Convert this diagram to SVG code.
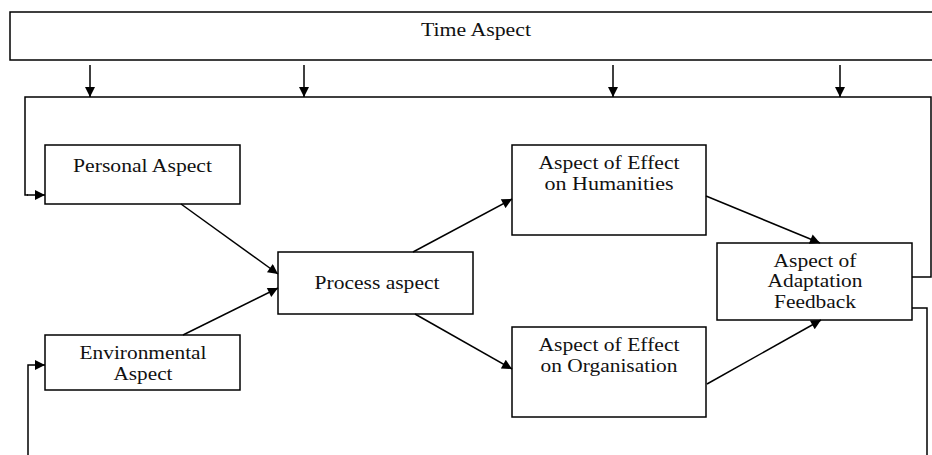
<svg xmlns="http://www.w3.org/2000/svg" width="932" height="455" viewBox="0 0 932 455">
<style>
.box{fill:#fff;stroke:#000;stroke-width:1.5}
.lbl{font-family:"Liberation Serif","Times New Roman",serif;font-size:18.5px;fill:#111;text-anchor:middle}
.ln{fill:none;stroke:#000;stroke-width:1.5}
.arr{fill:none;stroke:#000;stroke-width:1.5;marker-end:url(#ah)}
</style>
<defs>
<marker id="ah" viewBox="0 0 10 10" refX="10" refY="5" markerWidth="12" markerHeight="10" markerUnits="userSpaceOnUse" orient="auto">
<path d="M0,0 L10,5 L0,10 z" fill="#000"/>
</marker>
</defs>
<g id="time">
<rect class="box" x="10" y="12" width="930" height="48"/>
<text class="lbl" x="476" y="36" textLength="110" lengthAdjust="spacingAndGlyphs">Time Aspect</text>
</g>
<g id="personal">
<rect class="box" x="45" y="145" width="195" height="59"/>
<text class="lbl" x="142.5" y="172" textLength="139" lengthAdjust="spacingAndGlyphs">Personal Aspect</text>
</g>
<g id="environmental">
<rect class="box" x="45" y="335" width="195" height="55"/>
<text class="lbl" x="143" y="359" textLength="127" lengthAdjust="spacingAndGlyphs">Environmental</text>
<text class="lbl" x="143" y="380" textLength="59" lengthAdjust="spacingAndGlyphs">Aspect</text>
</g>
<g id="process">
<rect class="box" x="278" y="252" width="195" height="62"/>
<text class="lbl" x="377" y="289" textLength="125" lengthAdjust="spacingAndGlyphs">Process aspect</text>
</g>
<g id="humanities">
<rect class="box" x="512" y="145" width="194" height="90"/>
<text class="lbl" x="609" y="169" textLength="141" lengthAdjust="spacingAndGlyphs">Aspect of Effect</text>
<text class="lbl" x="609" y="190" textLength="129" lengthAdjust="spacingAndGlyphs">on Humanities</text>
</g>
<g id="organisation">
<rect class="box" x="512" y="327" width="194" height="90"/>
<text class="lbl" x="609" y="351" textLength="141" lengthAdjust="spacingAndGlyphs">Aspect of Effect</text>
<text class="lbl" x="609" y="372" textLength="137" lengthAdjust="spacingAndGlyphs">on Organisation</text>
</g>
<g id="adaptation">
<rect class="box" x="717" y="243" width="195" height="77"/>
<text class="lbl" x="815" y="267" textLength="83" lengthAdjust="spacingAndGlyphs">Aspect of</text>
<text class="lbl" x="815" y="287" textLength="95" lengthAdjust="spacingAndGlyphs">Adaptation</text>
<text class="lbl" x="815" y="308" textLength="82" lengthAdjust="spacingAndGlyphs">Feedback</text>
</g>
<g id="connectors">
<line class="arr" x1="90" y1="65" x2="90" y2="97"/>
<line class="arr" x1="304" y1="65" x2="304" y2="97"/>
<line class="arr" x1="613" y1="65" x2="613" y2="97"/>
<line class="arr" x1="840" y1="65" x2="840" y2="97"/>
<polyline class="ln" points="912,277 931,277 931,97 25,97 25,195 28,195"/>
<line class="arr" x1="27" y1="195" x2="45" y2="195"/>
<polyline class="ln" points="912,308 927,308 927,455"/>
<polyline class="arr" points="28,455 28,365 45,365"/>
<line class="arr" x1="181" y1="204" x2="278" y2="274"/>
<line class="arr" x1="183" y1="335" x2="278" y2="288"/>
<line class="arr" x1="413" y1="252" x2="512" y2="199"/>
<line class="arr" x1="415" y1="314" x2="512" y2="369"/>
<line class="arr" x1="706" y1="196" x2="820" y2="243"/>
<line class="arr" x1="707" y1="384" x2="821" y2="320"/>
</g>
</svg>
